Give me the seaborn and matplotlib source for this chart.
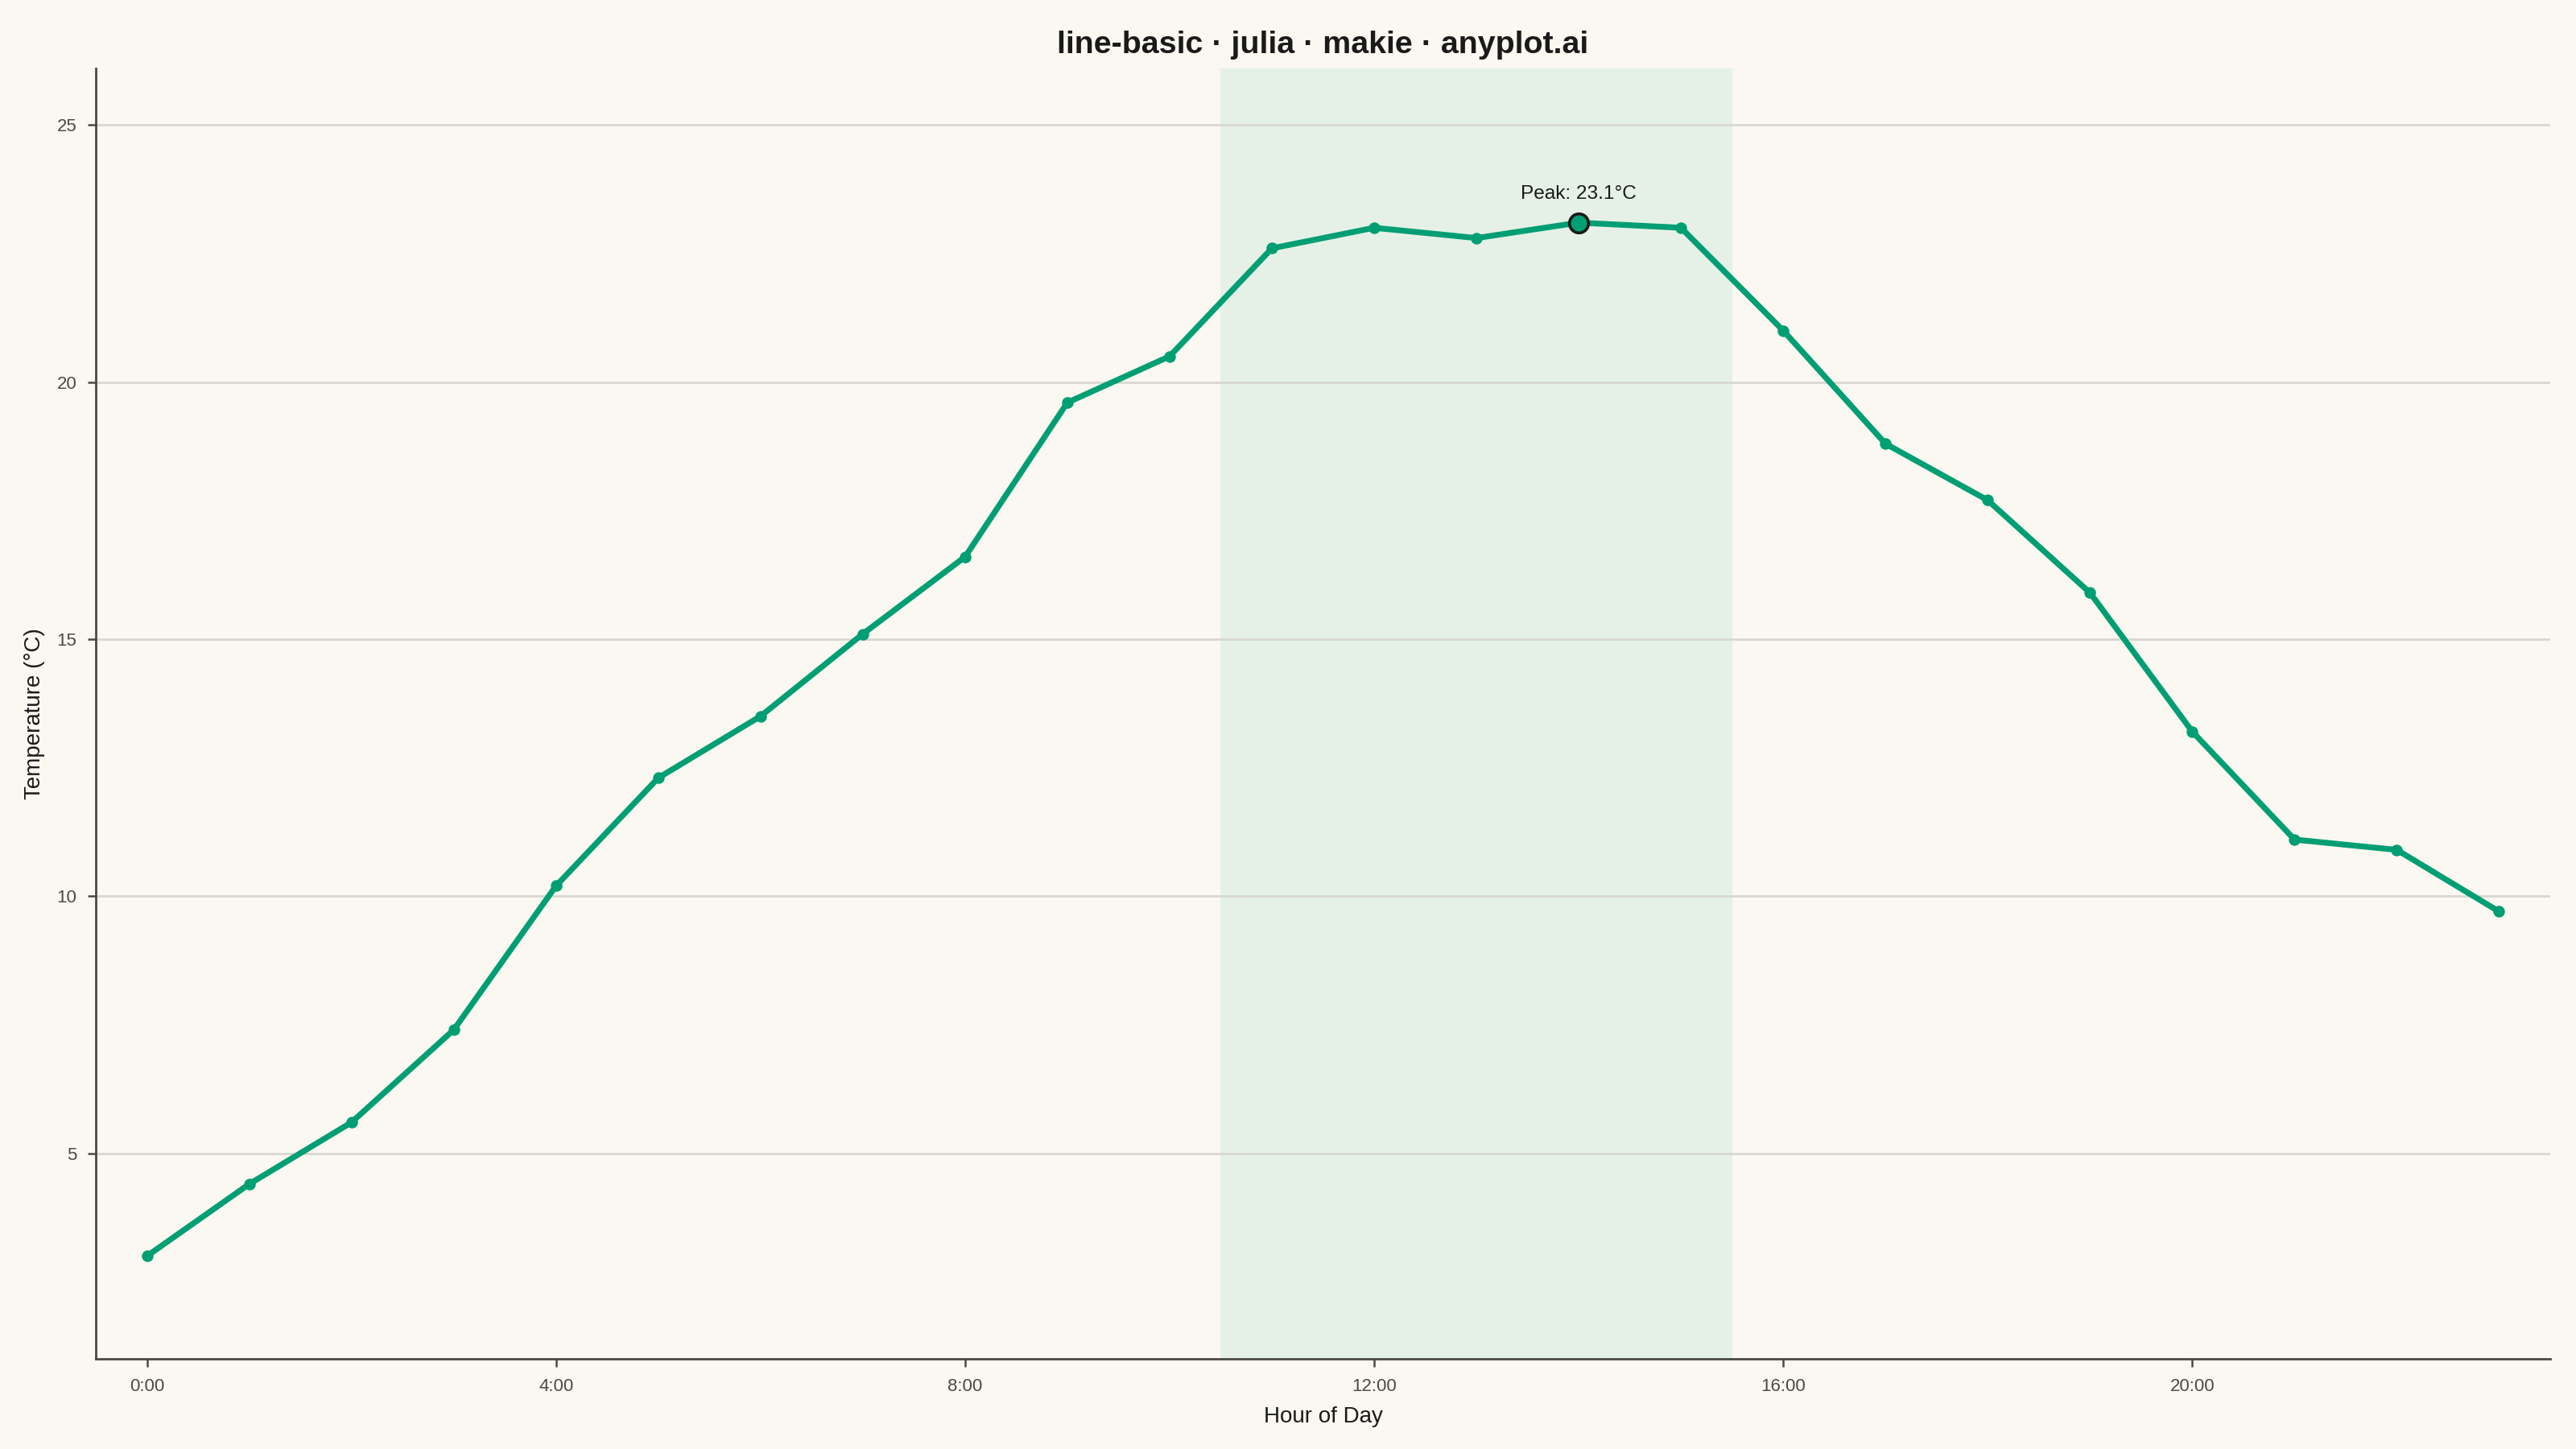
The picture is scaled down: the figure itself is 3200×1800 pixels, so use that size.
import matplotlib
matplotlib.use("Agg")
import matplotlib.pyplot as plt
import seaborn as sns
import pandas as pd

# hourly temperature readings
hours = list(range(24))
temps = [3.0, 4.4, 5.6, 7.4, 10.2, 12.3, 13.5, 15.1, 16.6, 19.6, 20.5, 22.6,
         23.0, 22.8, 23.1, 23.0, 21.0, 18.8, 17.7, 15.9, 13.2, 11.1, 10.9, 9.7]
tick_hours = [0, 4, 8, 12, 16, 20]
tick_labels = ["0:00", "4:00", "8:00", "12:00", "16:00", "20:00"]
warm_span = (10.5, 15.5)

df = pd.DataFrame({"hour": hours, "temp": temps})
peak = df.loc[df["temp"].idxmax()]

bg = "#FAF8F1"
green = "#009E73"
ink = "#1A1A1A"
grey = "#4A4A44"

sns.set_theme(style="white")
plt.rcParams["font.family"] = ["Liberation Sans", "DejaVu Sans"]

fig = plt.figure(figsize=(16, 9), dpi=200, facecolor=bg)
ax = fig.add_axes([0.0372, 0.0622, 0.9528, 0.8906])
ax.set_facecolor(bg)

ax.axvspan(*warm_span, color="#E5F1E7", zorder=0, lw=0)
ax.grid(axis="y", color="#D8D7D0", lw=1.0, zorder=0.5)
ax.grid(axis="x", visible=False)

sns.lineplot(data=df, x="hour", y="temp", color=green, lw=2.6, marker="o",
             markersize=5.2, markeredgewidth=0, ax=ax, zorder=3)
ax.plot(peak["hour"], peak["temp"], "o", color=green, markersize=8.5,
        markeredgecolor=ink, markeredgewidth=1.3, zorder=4)
ax.annotate(f"Peak: {peak['temp']:.1f}°C", (peak["hour"], peak["temp"]),
            xytext=(0, 9), textcoords="offset points", ha="center", va="bottom",
            fontsize=8.8, color=ink)

ax.set_xlim(-0.5, 23.5)
ax.set_ylim(1.0, 26.1)
ax.set_xticks(tick_hours)
ax.set_xticklabels(tick_labels)
ax.set_yticks([5, 10, 15, 20, 25])

for side in ["top", "right"]:
    ax.spines[side].set_visible(False)
for side in ["left", "bottom"]:
    ax.spines[side].set_color(grey)
    ax.spines[side].set_linewidth(1.0)

ax.tick_params(axis="both", which="major", length=3.6, width=0.9, color=grey,
               labelcolor=grey, labelsize=8, pad=5, left=True, bottom=True)

ax.set_xlabel("Hour of Day", fontsize=10, color=ink, labelpad=5)
ax.set_ylabel("Temperature (°C)", fontsize=10, color=ink, labelpad=5)
ax.set_title("line-basic · julia · makie · anyplot.ai", fontsize=14.2,
             fontweight="bold", color=ink, pad=7)

fig.savefig("out.png", dpi=200, facecolor=bg)
